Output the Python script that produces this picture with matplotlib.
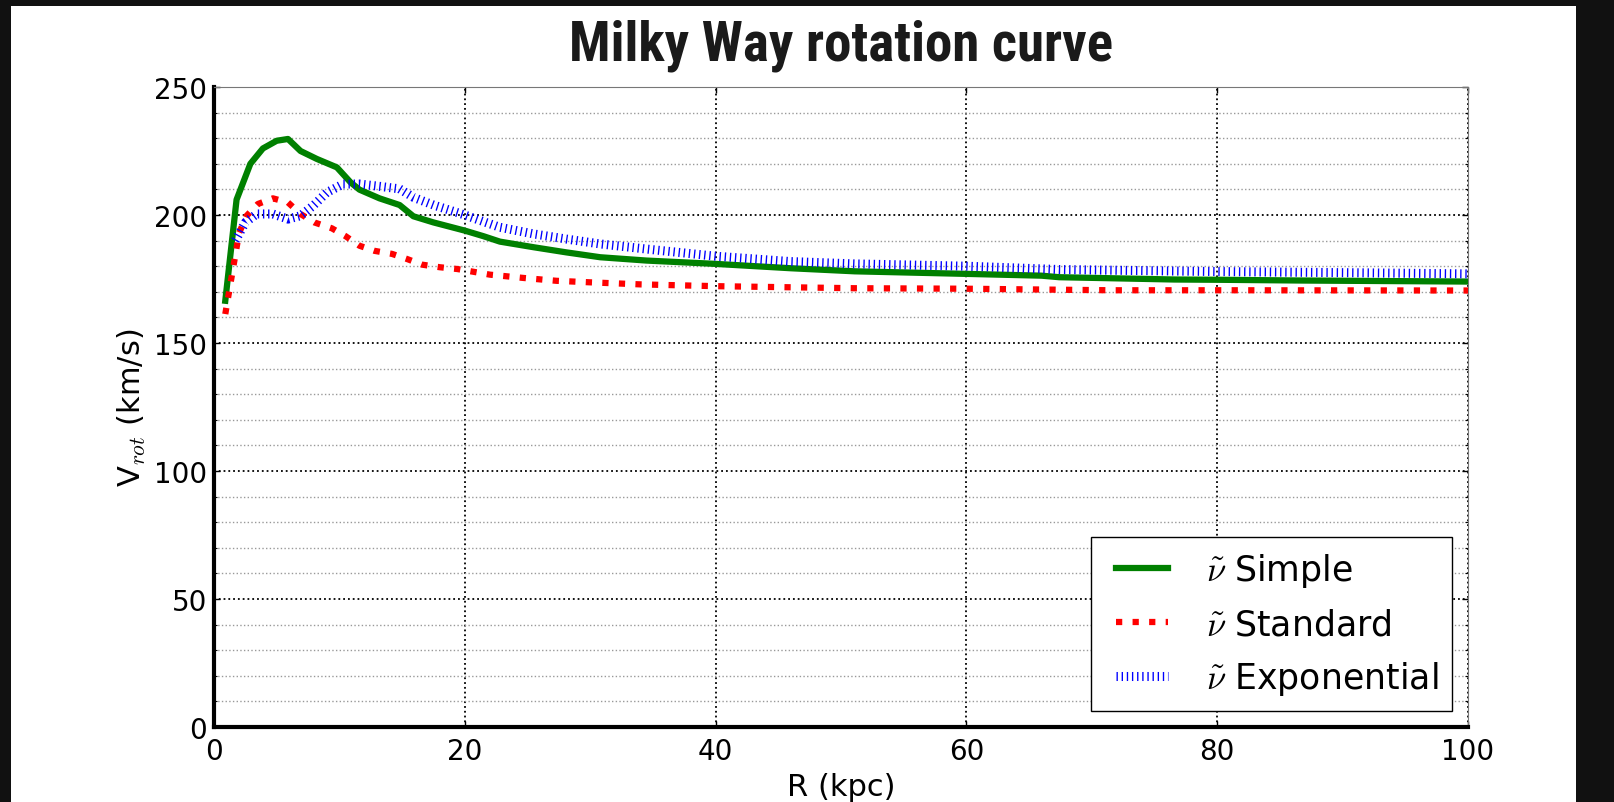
import matplotlib
matplotlib.use("Agg")
import matplotlib.pyplot as plt
from matplotlib.patches import Rectangle
from matplotlib.ticker import MultipleLocator

plt.rcParams['mathtext.fontset'] = 'cm'
plt.rcParams['font.family'] = ['DejaVu Sans']

# ---- data ----
R_simple = [0.9, 1.8, 2.9, 3.9, 5.0, 5.9, 6.9, 8.2, 9.8, 10.9, 11.6, 13.2, 14.8, 15.9,
            17.5, 20.0, 21.5, 22.8, 25.5, 28.1, 30.8, 34.5, 40.0, 46.0, 51.1, 60.0,
            66.0, 67.4, 76.6, 80.0, 86.8, 100.0]
v_simple = [166.5, 206.0, 220.0, 226.0, 229.0, 229.7, 225.0, 221.9, 218.6, 212.7, 209.9,
            206.5, 203.9, 199.5, 197.1, 193.9, 191.7, 189.6, 187.4, 185.4, 183.5, 182.2,
            180.9, 179.2, 178.0, 177.0, 176.3, 175.7, 174.8, 174.7, 174.4, 174.0]

R_standard = [0.9, 2.0, 2.6, 3.5, 4.7, 5.9, 6.9, 8.0, 9.4, 10.5, 11.6, 12.8, 14.2, 15.4,
              16.6, 18.0, 19.4, 20.6, 22.0, 24.7, 27.3, 30.0, 34.0, 40.0, 51.0, 60.0,
              71.5, 81.7, 100.0]
v_standard = [161.3, 193.0, 199.7, 204.3, 206.5, 204.9, 200.4, 197.1, 194.8, 191.7, 188.0,
              186.0, 184.8, 182.8, 180.6, 179.6, 178.9, 177.9, 176.7, 175.4, 174.3, 173.7,
              172.9, 172.2, 171.4, 171.2, 170.6, 170.6, 170.5]

R_exponential = [1.7, 2.5, 3.4, 4.7, 5.9, 6.9, 7.9, 9.0, 10.3, 11.6, 13.2, 14.8, 15.9,
                 17.5, 20.0, 21.5, 22.8, 25.5, 28.1, 30.8, 34.5, 40.0, 46.0, 51.1, 60.0,
                 67.4, 80.0, 91.8, 100.0]
v_exponential = [190.0, 197.1, 200.4, 200.4, 198.4, 199.7, 203.6, 208.8, 212.1, 212.1,
                 211.2, 210.2, 206.9, 203.9, 200.0, 197.4, 195.2, 192.6, 190.6, 188.7,
                 186.7, 183.9, 181.8, 180.9, 180.0, 178.7, 177.9, 177.4, 177.0]

labels = [r'$\tilde{\nu}$ Simple', r'$\tilde{\nu}$ Standard', r'$\tilde{\nu}$ Exponential']
title = 'Milky Way rotation curve'
xlabel = 'R (kpc)'
ylabel = r'V$_{rot}$ (km/s)'

W, H = 1615, 803
fig = plt.figure(figsize=(W / 100, H / 100), dpi=100, facecolor='white')

# dark frame bands of the screenshot
fig.patches.append(Rectangle((0, 1 - 7 / H), 1, 7 / H, transform=fig.transFigure,
                             facecolor='#111111', edgecolor='none', zorder=0))
fig.patches.append(Rectangle((0, 0), 11 / W, 1, transform=fig.transFigure,
                             facecolor='#111111', edgecolor='none', zorder=0))
fig.patches.append(Rectangle((1576 / W, 0), 1 - 1576 / W, 1, transform=fig.transFigure,
                             facecolor='#111111', edgecolor='none', zorder=0))

x0, x1, y0, y1 = 214, 1468, 88, 728
ax = fig.add_axes([x0 / W, 1 - y1 / H, (x1 - x0) / W, (y1 - y0) / H])

ax.plot(R_simple, v_simple, color='#008000', lw=4.5, solid_joinstyle='round',
        label=labels[0], zorder=3)
ax.plot(R_standard, v_standard, color='#ff0000', lw=4.5, linestyle=(0, (1, 1.65)),
        dash_capstyle='butt', label=labels[1], zorder=3)
ax.plot(R_exponential, v_exponential, color='#0000ff', lw=6.5,
        linestyle=(0, (0.15, 0.42)), dash_capstyle='butt', label=labels[2], zorder=4)

ax.set_xlim(0, 100)
ax.set_ylim(0, 250)
ax.xaxis.set_major_locator(MultipleLocator(20))
ax.yaxis.set_major_locator(MultipleLocator(50))
ax.yaxis.set_minor_locator(MultipleLocator(10))

ax.grid(True, which='major', color='black', linestyle=':', linewidth=1.3, zorder=1)
ax.grid(True, which='minor', axis='y', color='#999999', linestyle=':', linewidth=1.0, zorder=1)

for s in ['left', 'bottom']:
    ax.spines[s].set_linewidth(3.0)
    ax.spines[s].set_color('black')
for s in ['top', 'right']:
    ax.spines[s].set_linewidth(0.8)
    ax.spines[s].set_color('#777777')

ax.tick_params(which='both', direction='in', top=True, right=True)
ax.tick_params(which='major', length=4, width=1, labelsize=20)
ax.tick_params(axis='x', which='major', pad=7)
ax.tick_params(axis='y', which='major', pad=5)
ax.tick_params(which='minor', length=2, width=0.8)

ax.set_xlabel(xlabel, fontsize=22, labelpad=5.5)
ax.set_ylabel(ylabel, fontsize=22, labelpad=4)

fig.text((x0 + x1) / 2 / W, 1 - 61 / H, title, ha='center', va='baseline',
         fontsize=39.5, fontweight='bold', fontstretch='condensed', color='#1a1a1a',
         family=['Roboto Condensed', 'DejaVu Sans Condensed', 'DejaVu Sans'])

leg = ax.legend(loc='lower right', fontsize=25, numpoints=2, handlelength=2.1,
                handletextpad=0.8, borderpad=0.4, labelspacing=0.53, borderaxespad=0.45,
                fancybox=False, framealpha=1, edgecolor='black')
leg.get_frame().set_linewidth(1.0)

fig.savefig('out.png', dpi=100, facecolor=fig.get_facecolor())
